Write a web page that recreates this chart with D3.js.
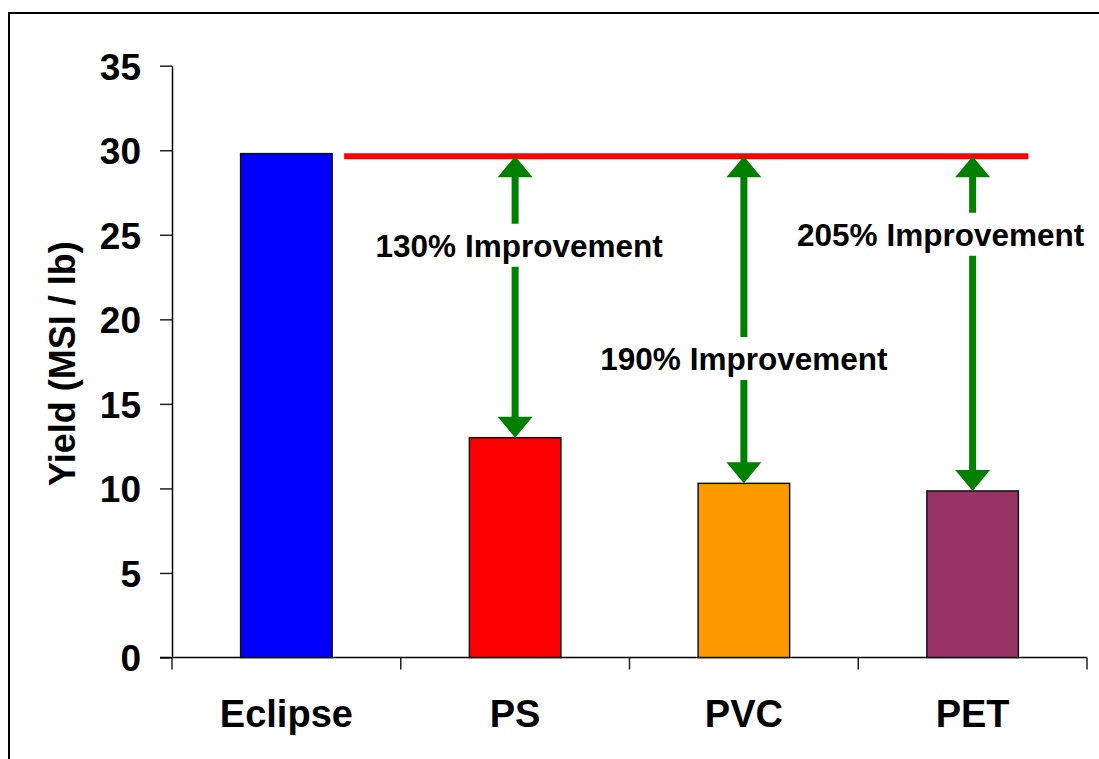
<!DOCTYPE html>
<html>
<head>
<meta charset="utf-8">
<script src="https://cdn.jsdelivr.net/npm/d3@7"></script>
<style>
  body { margin: 0; background: #fff; }
  text { font-family: "Liberation Sans", Arial, sans-serif; font-weight: bold; fill: #000; }
</style>
</head>
<body>
<svg id="chart"></svg>
<script>
// chart values
const categories = ['Eclipse', 'PS', 'PVC', 'PET'];
const yields = [29.8, 13.0, 10.3, 9.85];
const barColors = ['#0000ff', '#ff0000', '#ff9900', '#993366'];
const yTicks = [0, 5, 10, 15, 20, 25, 30, 35];
const targetLine = 29.65;
const improvements = [
    { cat: 'PS', label: '130% Improvement' },
    { cat: 'PVC', label: '190% Improvement' },
    { cat: 'PET', label: '205% Improvement' }
];
// where the labels sit, in y units
const labelAt = [23.7, 17.0, 24.35];

const W = 1099, H = 759;
const svg = d3.select('#chart').attr('width', W).attr('height', H);

// outer frame, runs off the right and bottom edge
svg.append('rect')
    .attr('x', 9).attr('y', 13)
    .attr('width', W + 20).attr('height', H + 20)
    .attr('fill', 'none').attr('stroke', '#000').attr('stroke-width', 2);

// scales
const x = d3.scaleBand().domain(categories).range([172, 1087])
    .paddingInner(0.6).paddingOuter(0.3);
const y = d3.scaleLinear().domain([0, 35]).range([657.5, 65.7]);

// y axis
const gy = svg.append('g').attr('transform', 'translate(172,0)')
    .call(d3.axisLeft(y).tickValues(yTicks).tickSize(12).tickSizeOuter(0).tickPadding(19));
gy.select('.domain').attr('stroke', '#000').attr('stroke-width', 1.5);
gy.selectAll('.tick line').attr('stroke', '#222').attr('stroke-width', 1.5);
gy.selectAll('.tick text').style('font-size', '37px').attr('dy', '0.36em');

// x axis: baseline and ticks at band edges
const x0 = x.range()[0], step = x.step();
svg.append('line')
    .attr('x1', 160).attr('x2', x.range()[1])
    .attr('y1', y(0)).attr('y2', y(0))
    .attr('stroke', '#000').attr('stroke-width', 1.5);
svg.selectAll('.xtick').data(d3.range(categories.length + 1)).enter().append('line')
    .attr('class', 'xtick')
    .attr('x1', (i) => x0 + i * step).attr('x2', (i) => x0 + i * step)
    .attr('y1', y(0)).attr('y2', y(0) + 12)
    .attr('stroke', '#222').attr('stroke-width', 1.5);
svg.selectAll('.xlabel').data(categories).enter().append('text')
    .attr('class', 'xlabel')
    .attr('x', (d) => x(d) + x.bandwidth() / 2)
    .attr('y', 727)
    .attr('text-anchor', 'middle')
    .style('font-size', '38px')
    .text((d) => d);

// y title
svg.append('text')
    .attr('transform', `translate(75,${(y(0) + y(35)) / 2 + 2}) rotate(-90)`)
    .attr('text-anchor', 'middle')
    .style('font-size', '36px')
    .text('Yield (MSI / lb)');

// bars
svg.selectAll('.bar').data(categories).enter().append('rect')
    .attr('class', 'bar')
    .attr('x', (d) => x(d))
    .attr('width', x.bandwidth())
    .attr('y', (d, i) => y(yields[i]))
    .attr('height', (d, i) => y(0) - y(yields[i]))
    .attr('fill', (d, i) => barColors[i])
    .attr('stroke', '#111').attr('stroke-width', 1.5);

// red reference line
svg.append('line')
    .attr('x1', x('Eclipse') + x.bandwidth() + 12)
    .attr('x2', x('PET') + x.bandwidth() + 10)
    .attr('y1', y(targetLine)).attr('y2', y(targetLine))
    .attr('stroke', '#ff0000').attr('stroke-width', 6);

// double headed green arrows
const green = '#008000';
const headW = 35, headH = 21, shaftW = 7;
improvements.forEach((imp, k) => {
    const cx = x(imp.cat) + x.bandwidth() / 2;
    const top = y(targetLine);
    const bottom = y(yields[categories.indexOf(imp.cat)]);
    svg.append('rect')
        .attr('x', cx - shaftW / 2).attr('y', top + headH - 1)
        .attr('width', shaftW).attr('height', bottom - top - 2 * headH + 2)
        .attr('fill', green);
    svg.append('path')
        .attr('d', `M${cx},${top} L${cx + headW / 2},${top + headH} L${cx - headW / 2},${top + headH} Z`)
        .attr('fill', green);
    svg.append('path')
        .attr('d', `M${cx},${bottom} L${cx + headW / 2},${bottom - headH} L${cx - headW / 2},${bottom - headH} Z`)
        .attr('fill', green);

    const ly = y(labelAt[k]);
    const lx = k === 0 ? cx + 4 : (k === 2 ? cx - 32 : cx);
    const t = svg.append('text')
        .attr('x', lx).attr('y', ly)
        .attr('text-anchor', 'middle')
        .style('font-size', '31.5px')
        .text(imp.label);
    const bb = t.node().getBBox();
    svg.insert('rect', () => t.node())
        .attr('x', bb.x - 2).attr('y', ly - 33)
        .attr('width', bb.width + 4).attr('height', 43)
        .attr('fill', '#fff');
});
</script>
</body>
</html>
